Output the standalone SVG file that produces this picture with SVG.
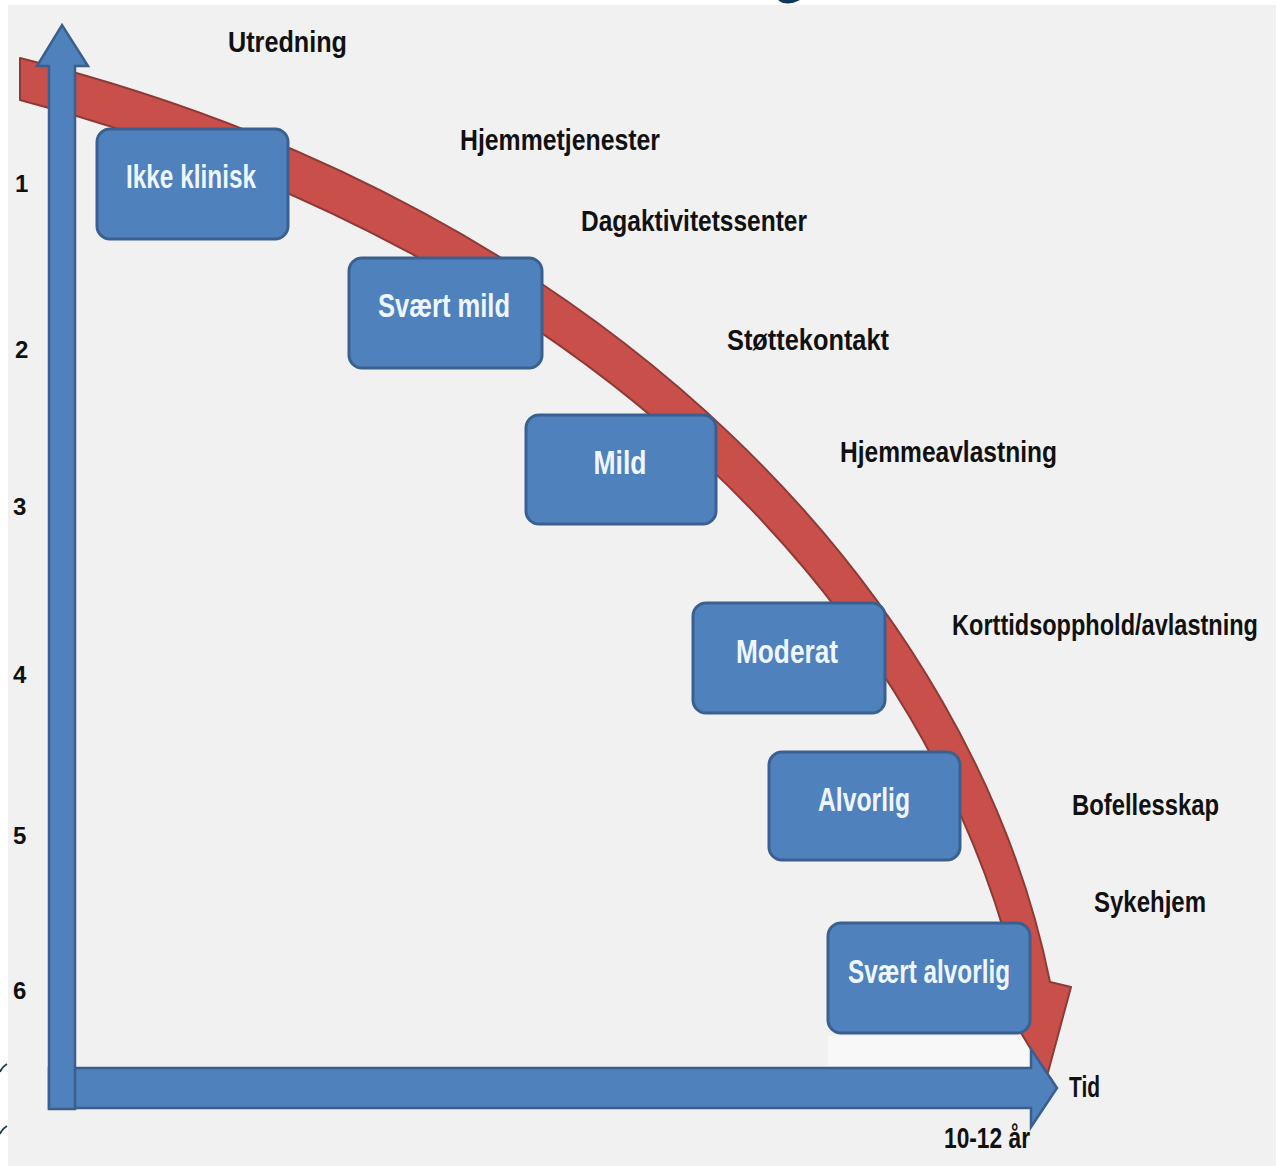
<svg xmlns="http://www.w3.org/2000/svg" width="1278" height="1166" viewBox="0 0 1278 1166">
<style>
.lbl{font-family:"Liberation Sans",Arial,sans-serif;font-weight:bold;font-size:29px;fill:#111}
.num{font-family:"Liberation Sans",Arial,sans-serif;font-weight:bold;font-size:24px;fill:#111}
.btxt{font-family:"Liberation Sans",Arial,sans-serif;font-weight:bold;font-size:33px;fill:#eef6ff;text-anchor:middle}
.box{fill:#4f81bd;stroke:#3a6090;stroke-width:3}
.axis{fill:#4f81bd;stroke:#3a5f8c;stroke-width:2.5;stroke-linejoin:miter}
.band{fill:#c9504a;stroke:#8e3a36;stroke-width:2;stroke-linejoin:round}
</style>
<rect x="0" y="0" width="1278" height="1166" fill="#ffffff"/>
<rect x="8" y="5" width="1268" height="1161" fill="#f1f1f1"/>
<path d="M778,0 Q786,7 800,0" fill="#0b3a5a"/>
<path d="M7,1064 Q2,1067 0,1072 M7,1126 Q2,1129 0,1134" fill="none" stroke="#1c3c55" stroke-width="2"/>
<rect x="828" y="1036" width="202" height="30" fill="#f8f8f8"/>
<g id="curve">
<path class="band" d="M20,58 C620,208 975,607 1050,982 L1071,987 L1047,1076 L997,993 L1019,988 C935,620 600,255 20,100 Z"/>
</g>
<g id="connectors">
<path id="x-axis" class="axis" d="M49,1068 L1031,1068 L1031,1049 L1057,1088 L1031,1127 L1031,1108 L49,1108 Z"/>
<path id="y-axis" class="axis" d="M49,1109 L49,66 L37,66 L62,25 L88,66 L75,66 L75,1109 Z"/>
</g>
<g id="node-ikke-klinisk">
<rect class="box" x="97" y="129" width="191" height="110" rx="13"/>
<text class="btxt" x="191" y="188" textLength="130" lengthAdjust="spacingAndGlyphs">Ikke klinisk</text>
</g>
<g id="node-svaert-mild">
<rect class="box" x="349" y="258" width="193" height="110" rx="13"/>
<text class="btxt" x="444" y="317" textLength="132" lengthAdjust="spacingAndGlyphs">Svært mild</text>
</g>
<g id="node-mild">
<rect class="box" x="526" y="415" width="190" height="109" rx="13"/>
<text class="btxt" x="620" y="474" textLength="53" lengthAdjust="spacingAndGlyphs">Mild</text>
</g>
<g id="node-moderat">
<rect class="box" x="693" y="603" width="192" height="110" rx="13"/>
<text class="btxt" x="787" y="663" textLength="102" lengthAdjust="spacingAndGlyphs">Moderat</text>
</g>
<g id="node-alvorlig">
<rect class="box" x="769" y="752" width="191" height="108" rx="13"/>
<text class="btxt" x="864" y="811" textLength="92" lengthAdjust="spacingAndGlyphs">Alvorlig</text>
</g>
<g id="node-svaert-alvorlig">
<rect class="box" x="828" y="923" width="202" height="110" rx="13"/>
<text class="btxt" x="929" y="983" textLength="162" lengthAdjust="spacingAndGlyphs">Svært alvorlig</text>
</g>
<g id="labels">
<text class="lbl" x="228" y="52" textLength="119" lengthAdjust="spacingAndGlyphs">Utredning</text>
<text class="lbl" x="460" y="150" textLength="200" lengthAdjust="spacingAndGlyphs">Hjemmetjenester</text>
<text class="lbl" x="581" y="231" textLength="226" lengthAdjust="spacingAndGlyphs">Dagaktivitetssenter</text>
<text class="lbl" x="727" y="350" textLength="162" lengthAdjust="spacingAndGlyphs">Støttekontakt</text>
<text class="lbl" x="840" y="462" textLength="217" lengthAdjust="spacingAndGlyphs">Hjemmeavlastning</text>
<text class="lbl" x="952" y="635" font-size="28" textLength="306" lengthAdjust="spacingAndGlyphs">Korttidsopphold/avlastning</text>
<text class="lbl" x="1072" y="815" textLength="147" lengthAdjust="spacingAndGlyphs">Bofellesskap</text>
<text class="lbl" x="1094" y="912" textLength="112" lengthAdjust="spacingAndGlyphs">Sykehjem</text>
<text class="lbl" x="1069" y="1097" textLength="31" lengthAdjust="spacingAndGlyphs">Tid</text>
<text class="lbl" x="944" y="1148" textLength="86" lengthAdjust="spacingAndGlyphs">10-12 år</text>
<text class="num" x="15" y="192">1</text>
<text class="num" x="15" y="358">2</text>
<text class="num" x="13" y="515">3</text>
<text class="num" x="13" y="683">4</text>
<text class="num" x="13" y="844">5</text>
<text class="num" x="13" y="999">6</text>
</g>
</svg>
